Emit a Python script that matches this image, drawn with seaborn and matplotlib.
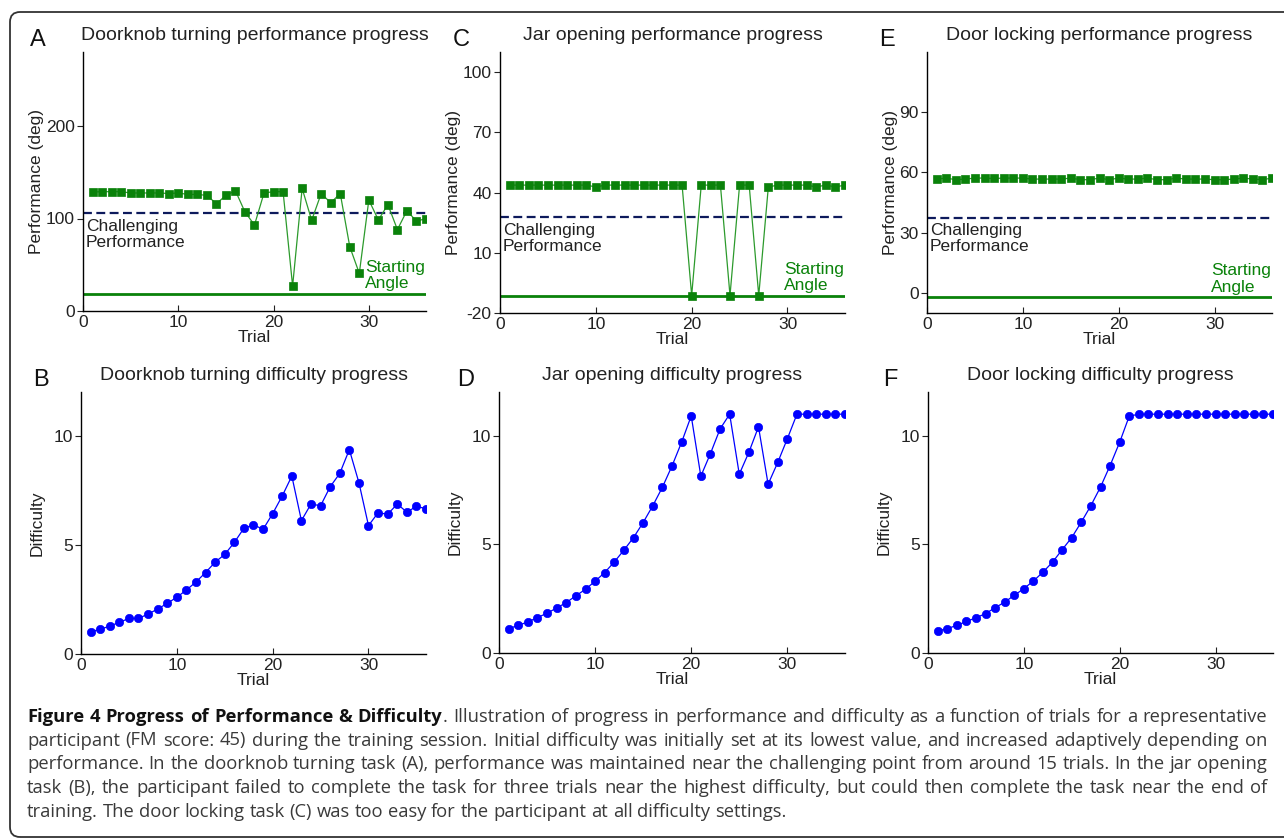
import matplotlib
matplotlib.use("Agg")
import matplotlib.pyplot as plt
import seaborn as sns
from matplotlib.patches import FancyBboxPatch
from matplotlib.transforms import IdentityTransform

# --- data ---
trials = list(range(1, 37))

doorknob_perf = [128.6, 129, 129, 129, 127.6, 127.6, 127.6, 127.6, 127, 127.6,
                 126, 126, 125, 116, 125, 130, 107, 93, 127.6, 129,
                 129, 27, 132.6, 98, 127, 117, 127, 69.5, 40.7, 120,
                 98.4, 115, 88, 108.5, 97, 100]
jar_perf = [43.7] * 9 + [42.8] + [43.7] * 9 + [-11.3, 43.7, 43.7, 43.7, -11.3,
            43.7, 43.7, -11.3, 42.8, 43.7, 43.7, 43.7, 43.7, 42.8, 43.7, 42.8, 43.7]
lock_perf = [56.7, 57.2, 56.4, 56.7, 57.2, 57.2, 57.0, 57.2, 57.2, 57.2,
             56.7, 56.7, 56.7, 56.7, 57.2, 56.4, 56.4, 57.2, 56.4, 57.2,
             56.7, 56.7, 57.2, 56.4, 56.4, 57.2, 56.7, 56.7, 56.7, 56.4,
             56.4, 56.7, 57.2, 56.7, 56.4, 57.2]

doorknob_diff = [1.02, 1.13, 1.28, 1.45, 1.63, 1.63, 1.83, 2.06, 2.32, 2.6,
                 2.93, 3.3, 3.73, 4.21, 4.56, 5.11, 5.76, 5.92, 5.71, 6.43,
                 7.24, 8.15, 6.11, 6.87, 6.79, 7.66, 8.27, 9.36, 7.85, 5.88,
                 6.47, 6.4, 6.87, 6.5, 6.76, 6.66]
jar_diff = [1.12, 1.27, 1.43, 1.63, 1.83, 2.07, 2.32, 2.63, 2.93, 3.3,
            3.7, 4.19, 4.73, 5.31, 6.0, 6.77, 7.62, 8.6, 9.69, 10.9,
            8.13, 9.17, 10.3, 10.98, 8.22, 9.23, 10.4, 7.76, 8.76, 9.85,
            10.98, 10.98, 10.98, 10.98, 10.98, 10.98]
lock_diff = [1.01, 1.12, 1.27, 1.45, 1.62, 1.81, 2.08, 2.34, 2.65, 2.96,
             3.31, 3.72, 4.18, 4.75, 5.31, 6.02, 6.78, 7.63, 8.62, 9.69,
             10.89] + [10.98] * 15

doorknob_challenge, doorknob_start = 105.6, 18.4
jar_challenge, jar_start = 27.7, -11.3
lock_challenge, lock_start = 37.5, -2.2

perf_titles = ["Doorknob turning performance progress",
               "Jar opening performance progress",
               "Door locking performance progress"]
diff_titles = ["Doorknob turning difficulty progress",
               "Jar opening difficulty progress",
               "Door locking difficulty progress"]
perf_yticks = [[0, 100, 200], [-20, 10, 40, 70, 100], [0, 30, 60, 90]]
perf_ylims = [(0, 280), (-20, 110), (-10, 120)]
diff_yticks = [0, 5, 10]

caption_bold = "Figure 4 Progress of Performance & Difficulty"
caption_lines = [
    ". Illustration of progress in performance and difficulty as a function of trials for a representative",
    "participant (FM score: 45) during the training session. Initial difficulty was initially set at its lowest value, and increased adaptively depending on",
    "performance. In the doorknob turning task (A), performance was maintained near the challenging point from around 15 trials. In the jar opening",
    "task (B), the participant failed to complete the task for three trials near the highest difficulty, but could then complete the task near the end of",
    "training. The door locking task (C) was too easy for the participant at all difficulty settings.",
]

# --- style ---
sns.set_style("ticks")
plt.rcParams["font.family"] = ["Liberation Sans", "DejaVu Sans"]
plt.rcParams["axes.unicode_minus"] = False
green = "#0a820a"
line_green = "#2c9a2c"
navy = "#0d1a5c"
blue = "#0000ff"

W, H = 1284, 840
fig = plt.figure(figsize=(W / 100, H / 100), dpi=100)


def px_axes(x0, y0, x1, y1):
    return fig.add_axes([x0 / W, 1 - y1 / H, (x1 - x0) / W, (y1 - y0) / H])


def style_axes(ax, title):
    sns.despine(ax=ax)
    for s in ["left", "bottom"]:
        ax.spines[s].set_color("black")
        ax.spines[s].set_linewidth(1.0)
    ax.set_xlim(0, 36)
    ax.set_xticks([0, 10, 20, 30])
    ax.tick_params(axis="x", direction="in", length=4, labelsize=12.5, pad=3, colors="#222222")
    ax.tick_params(axis="y", direction="out", length=4, labelsize=12.5, pad=2, colors="#222222")
    ax.set_xlabel("Trial", fontsize=12.5, labelpad=0, color="#222222")
    ax.set_title(title, fontsize=14, pad=9, color="#222222")


perf_boxes = [(83, 52, 426, 311), (500, 52, 845, 313), (927, 52, 1272, 313)]
diff_boxes = [(81, 392, 426, 654), (499, 392, 845, 653), (928, 392, 1273, 653)]
perf_data = [doorknob_perf, jar_perf, lock_perf]
diff_data = [doorknob_diff, jar_diff, lock_diff]
challenges = [doorknob_challenge, jar_challenge, lock_challenge]
starts = [doorknob_start, jar_start, lock_start]

# --- performance panels (top row) ---
for i in range(3):
    ax = px_axes(*perf_boxes[i])
    ax.axhline(challenges[i], color=navy, lw=1.6, dashes=(4, 2))
    ax.axhline(starts[i], color=green, lw=2.0)
    sns.lineplot(x=trials, y=perf_data[i], ax=ax, color=line_green, lw=0.9,
                 marker="s", markersize=6, markerfacecolor=green,
                 markeredgecolor=green, markeredgewidth=0.5)
    ax.set_ylim(*perf_ylims[i])
    ax.set_yticks(perf_yticks[i])
    ax.set_ylabel("Performance (deg)", fontsize=12.5, labelpad=1, color="#222222")
    style_axes(ax, perf_titles[i])
    ax.annotate("Challenging\nPerformance", xy=(0.3, challenges[i]), xytext=(0, -4),
                textcoords="offset points", ha="left", va="top", fontsize=12.5,
                color="#222222", linespacing=1.1)
    ax.annotate("Starting\nAngle", xy=(36, starts[i]), xytext=(-1, 2),
                textcoords="offset points", ha="right", va="bottom", fontsize=12.5,
                color=green, linespacing=1.1, multialignment="left")

# --- difficulty panels (bottom row) ---
for i in range(3):
    ax = px_axes(*diff_boxes[i])
    sns.lineplot(x=trials, y=diff_data[i], ax=ax, color=blue, lw=0.9,
                 marker="o", markersize=6, markerfacecolor=blue,
                 markeredgecolor=blue, markeredgewidth=0.5)
    ax.set_ylim(0, 12)
    ax.set_yticks(diff_yticks)
    ax.set_ylabel("Difficulty", fontsize=12.5, labelpad=6, color="#222222")
    style_axes(ax, diff_titles[i])

# --- panel letters ---
letters = [("A", 30, 46), ("C", 453, 46), ("E", 879, 46),
           ("B", 33, 386), ("D", 457, 386), ("F", 883, 386)]
for letter, lx, ly in letters:
    fig.text(lx / W, 1 - ly / H, letter, fontsize=17, va="baseline", color="#111111")

# --- rounded frame ---
frame = FancyBboxPatch((10, 3), 1290, 825, boxstyle="round,pad=0,rounding_size=10",
                       transform=IdentityTransform(), fill=False,
                       edgecolor="#333333", lw=1.3)
fig.patches.append(frame)

# --- caption (justified, word by word) ---
cap_family = ["Open Sans", "DejaVu Sans"]
cap_size = 11.8
renderer = fig.canvas.get_renderer()


def text_width(s, weight):
    t = fig.text(0, 0, s, fontsize=cap_size, weight=weight, family=cap_family)
    w = t.get_window_extent(renderer).width
    t.remove()
    return w


def build_groups(segments):
    groups = []
    for seg, weight in segments:
        words = seg.split(" ")
        for j, word in enumerate(words):
            if word == "":
                continue
            if j == 0 and groups and not seg.startswith(" "):
                groups[-1].append((word, weight))
            else:
                groups.append([(word, weight)])
    return groups


left, right = 27, 1267
baselines = [722, 745.5, 769, 793, 817]
line_segs = []
for k, line in enumerate(caption_lines):
    segs = [(line, "normal")]
    if k == 0:
        segs = [(caption_bold, "bold"), (line, "normal")]
    line_segs.append(segs)

# pick a caption size so the fullest line fits with ordinary spacing
natural = []
for segs in line_segs[:-1]:
    w = 0
    for s, wt in segs:
        w += text_width(s, wt)
    natural.append(w)
cap_size = cap_size * (right - left) / max(natural) * 0.99

space_w = text_width("a a", "normal") - 2 * text_width("a", "normal")
for k, segs in enumerate(line_segs):
    groups = build_groups(segs)
    widths = [[text_width(p, w) for p, w in g] for g in groups]
    total = sum(sum(ws) for ws in widths)
    if k < len(line_segs) - 1:
        gap = (right - left - total) / (len(groups) - 1)
    else:
        gap = space_w
    x = left
    for g, ws in zip(groups, widths):
        for (p, w), pw in zip(g, ws):
            fig.text(x / W, 1 - baselines[k] / H, p, fontsize=cap_size, weight=w,
                     family=cap_family, va="baseline", ha="left",
                     color="#111111" if w == "bold" else "#3a3a3a")
            x += pw
        x += gap

fig.savefig("out.png", dpi=100)
